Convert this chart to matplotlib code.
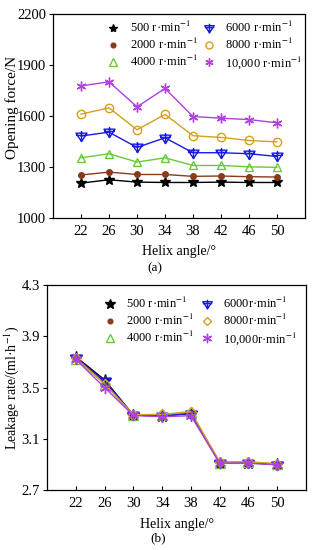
import matplotlib
matplotlib.use('Agg')
import matplotlib.pyplot as plt
from matplotlib.lines import Line2D
from matplotlib.path import Path

plt.rcParams['font.family'] = ['Liberation Serif', 'DejaVu Serif']
plt.rcParams['mathtext.fontset'] = 'stix'

angles = [22, 26, 30, 34, 38, 42, 46, 50]

labels_a = ['500 r·min$^{-1}$', '2000 r·min$^{-1}$', '4000 r·min$^{-1}$',
            '6000 r·min$^{-1}$', '8000 r·min$^{-1}$', '10,000 r·min$^{-1}$']
labels_b = ['500 r·min$^{-1}$', '2000 r·min$^{-1}$', '4000 r·min$^{-1}$',
            '6000r·min$^{-1}$', '8000r·min$^{-1}$', '10,000r·min$^{-1}$']

force_500 = [1205, 1225, 1211, 1209, 1209, 1211, 1209, 1209]
force_2000 = [1253, 1270, 1256, 1256, 1245, 1247, 1243, 1241]
force_4000 = [1354, 1378, 1329, 1354, 1309, 1309, 1301, 1298]
force_6000 = [1482, 1505, 1415, 1472, 1384, 1384, 1378, 1362]
force_8000 = [1611, 1648, 1519, 1609, 1484, 1474, 1456, 1448]
force_10000 = [1777, 1801, 1654, 1762, 1597, 1587, 1579, 1560]

leak_500 = [3.74, 3.56, 3.285, 3.278, 3.298, 2.913, 2.913, 2.900]
leak_2000 = [3.73, 3.54, 3.284, 3.280, 3.300, 2.915, 2.915, 2.902]
leak_4000 = [3.72, 3.53, 3.286, 3.285, 3.305, 2.914, 2.918, 2.903]
leak_6000 = [3.73, 3.55, 3.283, 3.279, 3.296, 2.912, 2.912, 2.899]
leak_8000 = [3.73, 3.53, 3.288, 3.290, 3.312, 2.918, 2.920, 2.905]
leak_10000 = [3.72, 3.50, 3.282, 3.272, 3.280, 2.908, 2.908, 2.897]

colors = ['black', '#8b3a1a', '#66cc33', '#1a1ae6', '#d4a020', '#b040e0']

# triangle down with a cross through it
tri_cross = Path(
    [(-1, 0.6), (1, 0.6), (0, -0.9), (-1, 0.6),
     (0, 1.0), (0, -1.0), (-1, 0.2), (1, 0.2)],
    [Path.MOVETO, Path.LINETO, Path.LINETO, Path.CLOSEPOLY,
     Path.MOVETO, Path.LINETO, Path.MOVETO, Path.LINETO])

styles_a = [('*', 'full', 7), ('o', 'full', 4), ('^', 'none', 6),
            (tri_cross, 'none', 8), ('o', 'none', 6), ((6, 2, 0), 'none', 7)]
styles_b = [('*', 'full', 9), ('o', 'full', 4), ('^', 'none', 7),
            (tri_cross, 'none', 8), ('D', 'none', 5), ((6, 2, 0), 'none', 8)]

fig = plt.figure(figsize=(3.16, 5.5), dpi=100)

ax_a = fig.add_axes([53 / 316, 1 - 218 / 550, 252 / 316, 204 / 550])
ax_b = fig.add_axes([47 / 316, 1 - 490 / 550, 259 / 316, 205 / 550])

forces = [force_500, force_2000, force_4000, force_6000, force_8000, force_10000]
leaks = [leak_500, leak_2000, leak_4000, leak_6000, leak_8000, leak_10000]

for vals, col, (m, fs, ms) in zip(forces, colors, styles_a):
    ax_a.plot(angles, vals, color=col, marker=m, fillstyle=fs, markersize=ms,
              markeredgewidth=1.0, linewidth=1.0)

for vals, col, (m, fs, ms) in zip(leaks, colors, styles_b):
    ax_b.plot(angles, vals, color=col, marker=m, fillstyle=fs, markersize=ms,
              markeredgewidth=1.0, linewidth=1.0)

ax_a.set_xlim(18, 54)
ax_a.set_ylim(1000, 2200)
ax_a.set_yticks([1000, 1300, 1600, 1900, 2200])
ax_b.set_xlim(18, 54)
ax_b.set_ylim(2.7, 4.3)
ax_b.set_yticks([2.7, 3.1, 3.5, 3.9, 4.3])

for ax in (ax_a, ax_b):
    ax.set_xticks(angles)
    ax.tick_params(axis='x', direction='in', labelsize=10.5, length=3, pad=5)
    ax.tick_params(axis='y', direction='out', labelsize=10.5, length=3, pad=2)
    for sp in ax.spines.values():
        sp.set_linewidth(0.9)

ax_a.set_xlabel('Helix angle/°', fontsize=10, labelpad=5)
ax_b.set_xlabel('Helix angle/°', fontsize=10, labelpad=6)

ax_a.set_ylabel('Opening force/N', fontsize=11)
ax_a.yaxis.set_label_coords(-0.135, 0.54)
ax_b.set_ylabel('Leakage rate/(ml·h$^{-1}$)', fontsize=10)
ax_b.yaxis.set_label_coords(-0.1, 0.5)


def marker_handles(styles, scale):
    hs = []
    for col, (m, fs, ms) in zip(colors, styles):
        hs.append(Line2D([], [], linestyle='None', color=col, marker=m,
                         fillstyle=fs, markersize=ms * scale, markeredgewidth=1.0))
    return hs


ax_a.legend(marker_handles(styles_a, 0.85), labels_a, ncol=2, frameon=False,
            fontsize=9, loc='upper left', bbox_to_anchor=(0.21, 0.97),
            borderaxespad=0, borderpad=0, columnspacing=0.3, handlelength=1.2,
            handletextpad=0.7, labelspacing=0.15)
ax_b.legend(marker_handles(styles_b, 0.85), labels_b, ncol=2, frameon=False,
            fontsize=9, loc='upper left', bbox_to_anchor=(0.215, 0.945),
            borderaxespad=0, borderpad=0, columnspacing=0.45, handlelength=1.2,
            handletextpad=0.7, labelspacing=0.15)

fig.text(155 / 316, 1 - 268 / 550, '(a)', ha='center', va='center', fontsize=9.5)
fig.text(158 / 316, 1 - 538 / 550, '(b)', ha='center', va='center', fontsize=9.5)

fig.savefig('out.png', dpi=100)
